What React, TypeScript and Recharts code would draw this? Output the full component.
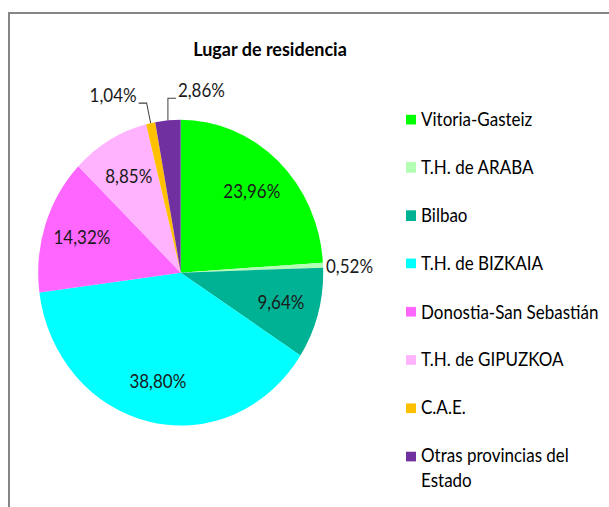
import React from "react";
import { PieChart, Pie, Cell, Legend } from "recharts";

// values (percent of total)
const names = [
  "Vitoria-Gasteiz",
  "T.H. de ARABA",
  "Bilbao",
  "T.H. de BIZKAIA",
  "Donostia-San Sebastián",
  "T.H. de GIPUZKOA",
  "C.A.E.",
  "Otras provincias del Estado",
];
const values = [23.96, 0.52, 9.64, 38.8, 14.32, 8.85, 1.04, 2.86];
const colors = [
  "#00ff00",
  "#b3ffb3",
  "#00b294",
  "#00ffff",
  "#ff66ff",
  "#ffb3ff",
  "#ffc000",
  "#7030a0",
];

const data = names.map((name, i) => ({ name, value: values[i] }));

// the reference pie is a bit taller than wide, so the whole chart is stretched
const S = 1.073;
const FONT = "Lato, 'Open Sans', sans-serif";
const RAD = Math.PI / 180;

// how the small slices get their labels
const outside: Record<string, { side: "left" | "right" | "out"; lift?: number }> = {
  "T.H. de ARABA": { side: "out" },
  "C.A.E.": { side: "left", lift: 15.5 },
  "Otras provincias del Estado": { side: "right", lift: 20 },
};

const fmt = (v: number) => v.toFixed(2).replace(".", ",") + "%";

const renderLabel = (props: any) => {
  const { cx, cy, midAngle, outerRadius, name, value } = props;
  const cos = Math.cos(-midAngle * RAD);
  const sin = Math.sin(-midAngle * RAD);
  const o = outside[name];
  if (!o) {
    const r = outerRadius * 0.73;
    return (
      <text
        x={cx + r * cos}
        y={cy + r * sin}
        textAnchor="middle"
        dominantBaseline="central"
        fontSize={17}
        fontFamily={FONT}
        fill="#1a1a1a"
      >
        {fmt(value)}
      </text>
    );
  }
  const x0 = cx + outerRadius * cos;
  const y0 = cy + outerRadius * sin;
  if (o.side === "out") {
    return (
      <text
        x={x0 + 3}
        y={y0 + 1}
        textAnchor="start"
        dominantBaseline="central"
        fontSize={17}
        fontFamily={FONT}
        fill="#1a1a1a"
      >
        {fmt(value)}
      </text>
    );
  }
  const ey = cy - outerRadius - (o.lift || 18);
  const dir = o.side === "left" ? -1 : 1;
  const ex = o.side === "left" ? x0 - 4 : x0;
  const tx = ex + dir * 8;
  return (
    <g>
      <polyline
        points={`${x0},${y0} ${ex},${ey} ${tx},${ey}`}
        fill="none"
        stroke="#404040"
        strokeWidth={1}
      />
      <text
        x={tx + dir * 2}
        y={ey - 1}
        textAnchor={o.side === "left" ? "end" : "start"}
        fontSize={17}
        fontFamily={FONT}
        fill="#1a1a1a"
      >
        {fmt(value)}
      </text>
    </g>
  );
};

// legend in the series order (recharts would sort it by name)
const renderLegend = () => {
  return (
    <div style={{ fontFamily: FONT, fontSize: 17, color: "#000" }}>
      {names.map((name, i) => (
        <div
          key={name}
          style={{
            display: "flex",
            alignItems: "flex-start",
            height: 44.9,
            lineHeight: "22.4px",
          }}
        >
          <span
            style={{
              display: "inline-block",
              width: 10,
              height: 9.3,
              marginTop: 6.5,
              marginRight: 5,
              background: colors[i],
              flex: "none",
            }}
          />
          <span style={{ width: 180 }}>{name}</span>
        </div>
      ))}
    </div>
  );
};

export default function App() {
  return (
    <div
      style={{
        position: "fixed",
        left: 0,
        top: 0,
        width: 609,
        height: 507,
        overflow: "hidden",
        background: "#fff",
      }}
    >
      <div
        style={{
          position: "absolute",
          left: 8,
          top: 12,
          width: 700,
          height: 600,
          border: "2px solid #868686",
        }}
      />
      <div
        style={{
          position: "absolute",
          left: 0,
          top: 0,
          width: 609,
          height: 473,
          transform: `scaleY(${S})`,
          transformOrigin: "top left",
        }}
      >
        <div
          style={{
            position: "absolute",
            left: 170,
            top: 34.7,
            width: 200,
            textAlign: "center",
            lineHeight: "20px",
            fontFamily: FONT,
            fontWeight: "bold",
            fontSize: 18,
            color: "#000",
          }}
        >
          Lugar de residencia
        </div>
        <PieChart
          width={609}
          height={473}
          margin={{ top: 0, right: 0, bottom: 0, left: 0 }}
        >
          <Pie
            data={data}
            dataKey="value"
            nameKey="name"
            cx={180.7}
            cy={254.1}
            outerRadius={142.5}
            startAngle={90}
            endAngle={-270}
            stroke="none"
            label={renderLabel}
            labelLine={false}
            isAnimationActive={false}
          >
            {data.map((d, i) => (
              <Cell key={d.name} fill={colors[i]} />
            ))}
          </Pie>
          <Legend
            layout="vertical"
            align="right"
            verticalAlign="top"
            content={renderLegend}
            wrapperStyle={{ left: 406, top: 100, width: 200, right: "auto" }}
          />
        </PieChart>
      </div>
    </div>
  );
}
